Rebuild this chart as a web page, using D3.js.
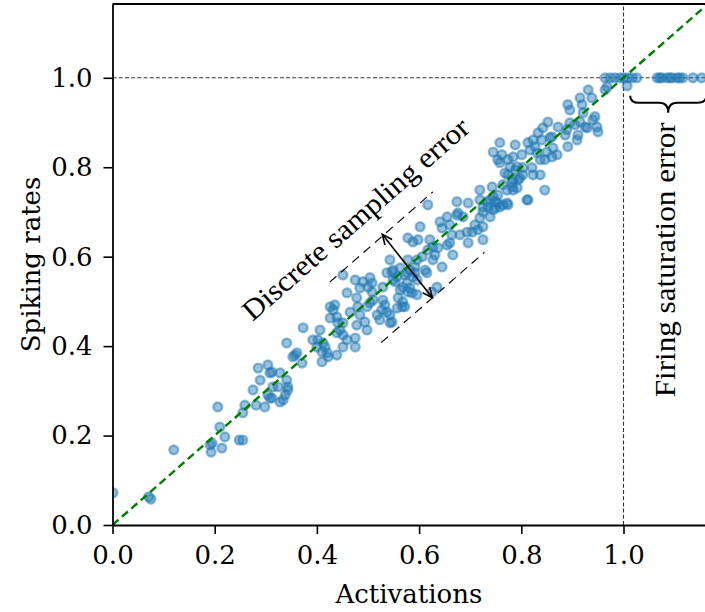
<!DOCTYPE html>
<html>
<head>
<meta charset="utf-8">
<script src="https://cdn.jsdelivr.net/npm/d3@7/dist/d3.min.js"></script>
<style>
  html, body { margin: 0; padding: 0; background: #fff; }
  svg { display: block; }
  .tick text { font-family: "DejaVu Serif", serif; font-size: 26px; fill: #000; }
  .axis-label { font-family: "DejaVu Serif", serif; font-size: 26px; fill: #000; }
  .note { font-family: "Liberation Serif", "Times New Roman", serif; font-size: 29px; fill: #000; }
</style>
</head>
<body>
<svg id="chart" width="705" height="612"></svg>
<script>
// Activation of each neuron (x) and its measured spiking rate (y)
const activations = [
  0.001, 0.071, 0.075, 0.120, 0.195, 0.191, 0.193, 0.214, 0.220, 0.210,
  0.206, 0.248, 0.255, 0.255, 0.259, 0.281, 0.298, 0.275, 0.289, 0.285,
  0.304, 0.308, 0.328, 0.304, 0.312, 0.324, 0.334, 0.338, 0.343, 0.341,
  0.353, 0.357, 0.312, 0.314, 0.343, 0.341, 0.308, 0.328, 0.361, 0.371,
  0.373, 0.392, 0.400, 0.402, 0.406, 0.412, 0.416, 0.410, 0.420, 0.410,
  0.422, 0.426, 0.432, 0.435, 0.439, 0.441, 0.445, 0.439, 0.426, 0.451,
  0.451, 0.459, 0.475, 0.475, 0.451, 0.439, 0.459, 0.465, 0.478, 0.480,
  0.478, 0.484, 0.498, 0.494, 0.498, 0.475, 0.484, 0.490, 0.500, 0.504,
  0.508, 0.508, 0.510, 0.504, 0.518, 0.523, 0.527, 0.533, 0.537, 0.543,
  0.547, 0.451, 0.537, 0.547, 0.549, 0.557, 0.563, 0.559, 0.568, 0.572,
  0.557, 0.576, 0.582, 0.586, 0.596, 0.588, 0.576, 0.529, 0.529, 0.543,
  0.543, 0.549, 0.563, 0.572, 0.553, 0.568, 0.578, 0.582, 0.592, 0.596,
  0.578, 0.567, 0.596, 0.592, 0.606, 0.612, 0.615, 0.602, 0.578, 0.588,
  0.598, 0.621, 0.617, 0.627, 0.631, 0.627, 0.637, 0.645, 0.635, 0.625,
  0.641, 0.645, 0.655, 0.660, 0.664, 0.655, 0.666, 0.660, 0.680, 0.674,
  0.674, 0.676, 0.696, 0.686, 0.694, 0.696, 0.704, 0.709, 0.715, 0.725,
  0.617, 0.719, 0.725, 0.735, 0.739, 0.745, 0.749, 0.754, 0.772, 0.719,
  0.764, 0.772, 0.774, 0.784, 0.782, 0.792, 0.788, 0.797, 0.758, 0.774,
  0.792, 0.811, 0.719, 0.725, 0.733, 0.743, 0.745, 0.754, 0.749, 0.764,
  0.774, 0.758, 0.739, 0.725, 0.758, 0.745, 0.754, 0.762, 0.784, 0.788,
  0.778, 0.768, 0.782, 0.794, 0.784, 0.801, 0.803, 0.803, 0.813, 0.817,
  0.823, 0.827, 0.831, 0.833, 0.837, 0.840, 0.821, 0.823, 0.837, 0.846,
  0.850, 0.860, 0.856, 0.870, 0.862, 0.860, 0.852, 0.872, 0.842, 0.813,
  0.846, 0.886, 0.889, 0.891, 0.895, 0.905, 0.909, 0.911, 0.915, 0.925,
  0.929, 0.891, 0.895, 0.915, 0.919, 0.921, 0.931, 0.940, 0.944, 0.948,
  0.950, 0.938, 0.968, 0.964, 1.007,
  0.964, 0.974, 0.983, 0.993, 1.001, 1.009, 1.017, 1.026,
  1.066, 1.071, 1.075, 1.085, 1.091, 1.095, 1.105, 1.110, 1.116, 1.136, 1.153
];
const spikingRates = [
  0.072, 0.063, 0.058, 0.168, 0.183, 0.179, 0.163, 0.172, 0.197, 0.219,
  0.264, 0.190, 0.190, 0.251, 0.268, 0.268, 0.264, 0.302, 0.324, 0.351,
  0.358, 0.340, 0.340, 0.291, 0.284, 0.309, 0.280, 0.291, 0.302, 0.407,
  0.376, 0.380, 0.342, 0.309, 0.309, 0.324, 0.284, 0.275, 0.385, 0.362,
  0.441, 0.414, 0.398, 0.414, 0.436, 0.407, 0.398, 0.387, 0.385, 0.365,
  0.376, 0.488, 0.481, 0.492, 0.465, 0.452, 0.436, 0.430, 0.463, 0.452,
  0.425, 0.414, 0.418, 0.398, 0.398, 0.380, 0.519, 0.476, 0.508, 0.488,
  0.447, 0.470, 0.436, 0.454, 0.488, 0.548, 0.530, 0.544, 0.532, 0.553,
  0.541, 0.521, 0.503, 0.497, 0.470, 0.459, 0.481, 0.492, 0.476, 0.470,
  0.454, 0.559, 0.564, 0.566, 0.548, 0.555, 0.526, 0.508, 0.499, 0.488,
  0.485, 0.541, 0.530, 0.519, 0.515, 0.555, 0.564, 0.532, 0.503, 0.452,
  0.593, 0.570, 0.575, 0.559, 0.544, 0.532, 0.593, 0.570, 0.564, 0.548,
  0.521, 0.488, 0.593, 0.577, 0.600, 0.570, 0.564, 0.667, 0.642, 0.633,
  0.638, 0.638, 0.615, 0.622, 0.604, 0.593, 0.620, 0.577, 0.532, 0.521,
  0.678, 0.664, 0.689, 0.671, 0.649, 0.626, 0.604, 0.631, 0.649, 0.693,
  0.723, 0.698, 0.720, 0.689, 0.655, 0.631, 0.655, 0.671, 0.660, 0.638,
  0.716, 0.687, 0.700, 0.711, 0.727, 0.705, 0.723, 0.720, 0.720, 0.727,
  0.761, 0.749, 0.783, 0.772, 0.756, 0.754, 0.794, 0.776, 0.810, 0.817,
  0.801, 0.727, 0.749, 0.711, 0.723, 0.756, 0.734, 0.738, 0.709, 0.716,
  0.716, 0.711, 0.689, 0.667, 0.855, 0.834, 0.817, 0.828, 0.823, 0.850,
  0.801, 0.787, 0.767, 0.772, 0.749, 0.828, 0.799, 0.783, 0.855, 0.839,
  0.861, 0.846, 0.832, 0.877, 0.817, 0.861, 0.799, 0.783, 0.783, 0.817,
  0.834, 0.823, 0.866, 0.828, 0.843, 0.868, 0.901, 0.890, 0.888, 0.727,
  0.749, 0.872, 0.884, 0.846, 0.899, 0.895, 0.861, 0.872, 0.901, 0.890,
  0.888, 0.940, 0.928, 0.955, 0.940, 0.922, 0.973, 0.906, 0.913, 0.890,
  0.879, 0.955, 0.980, 0.973, 0.982,
  1.000, 1.000, 1.000, 1.000, 1.000, 1.000, 1.000, 1.000,
  1.000, 1.000, 1.000, 1.000, 1.000, 1.000, 1.000, 1.000, 1.000, 1.000, 1.000
];
const points = activations.map((a, i) => ({ a, r: spikingRates[i] }));

// Axis ranges and ticks
const xDomain = [0, 1.16];
const yDomain = [0, 1.165];
const xTicks = [0, 0.2, 0.4, 0.6, 0.8, 1.0];
const yTicks = [0, 0.2, 0.4, 0.6, 0.8, 1.0];
const xTitle = "Activations";
const yTitle = "Spiking rates";

// Annotation geometry, in data units
const saturationLevel = 1.0;         // max firing rate / activation threshold
const bandOffset = 0.118;            // half width of the sampling-error band
const bandUpper = [0.425, 0.627];    // x extent of upper band line
const bandLower = [0.526, 0.728];    // x extent of lower band line
const arrowFrom = [0.528, 0.650];
const arrowTo = [0.626, 0.508];
const braceSpan = [1.013, 1.162];
const braceTop = 0.96;
const braceMid = 0.944;
const braceTip = 0.922;
const samplingLabel = { text: "Discrete sampling error", x: 0.488, y: 0.668 };
const saturationLabel = { text: "Firing saturation error", x: 1.101, y: 0.593 };

const svg = d3.select("#chart");
const margin = { left: 112.5, top: 4, bottom: 87 };
const plotW = (xDomain[1] - xDomain[0]) * 511;

const x = d3.scaleLinear().domain(xDomain).range([margin.left, margin.left + plotW]);
const y = d3.scaleLinear().domain(yDomain).range([612 - margin.bottom, margin.top]);

svg.append("clipPath").attr("id", "plot-clip")
  .append("rect")
  .attr("x", x(xDomain[0])).attr("y", y(yDomain[1]))
  .attr("width", x(xDomain[1]) - x(xDomain[0]))
  .attr("height", y(yDomain[0]) - y(yDomain[1]));

const plot = svg.append("g").attr("clip-path", "url(#plot-clip)");

// Reference lines at the saturation level
plot.append("line")
  .attr("x1", x(xDomain[0])).attr("x2", x(xDomain[1]))
  .attr("y1", y(saturationLevel)).attr("y2", y(saturationLevel))
  .attr("stroke", "#333").attr("stroke-width", 1.1)
  .attr("stroke-dasharray", "4,2.2");
plot.append("line")
  .attr("x1", x(saturationLevel)).attr("x2", x(saturationLevel))
  .attr("y1", y(yDomain[0])).attr("y2", y(yDomain[1]))
  .attr("stroke", "#333").attr("stroke-width", 1.1)
  .attr("stroke-dasharray", "4,2.2");

// Scatter of neurons: translucent face with an edge ring of the same colour
plot.append("g").selectAll("circle")
  .data(points)
  .join("circle")
  .attr("cx", d => x(d.a))
  .attr("cy", d => y(d.r))
  .attr("r", 4.4)
  .attr("fill", "#1f77b4").attr("fill-opacity", 0.45)
  .attr("stroke", "#1f77b4").attr("stroke-opacity", 0.5)
  .attr("stroke-width", 2.4);

// Identity line
plot.append("line")
  .attr("x1", x(0)).attr("y1", y(0))
  .attr("x2", x(xDomain[1])).attr("y2", y(xDomain[1]))
  .attr("stroke", "green").attr("stroke-width", 2.4)
  .attr("stroke-dasharray", "8,4.5");

// Sampling-error band edges
plot.append("line")
  .attr("x1", x(bandUpper[0])).attr("y1", y(bandUpper[0] + bandOffset))
  .attr("x2", x(bandUpper[1])).attr("y2", y(bandUpper[1] + bandOffset))
  .attr("stroke", "#000").attr("stroke-width", 1.1).attr("stroke-dasharray", "9,6");
plot.append("line")
  .attr("x1", x(bandLower[0])).attr("y1", y(bandLower[0] - bandOffset))
  .attr("x2", x(bandLower[1])).attr("y2", y(bandLower[1] - bandOffset))
  .attr("stroke", "#000").attr("stroke-width", 1.1).attr("stroke-dasharray", "9,6");

// Double-headed arrow across the band
const ax1 = x(arrowFrom[0]), ay1 = y(arrowFrom[1]);
const ax2 = x(arrowTo[0]), ay2 = y(arrowTo[1]);
plot.append("line")
  .attr("x1", ax1).attr("y1", ay1).attr("x2", ax2).attr("y2", ay2)
  .attr("stroke", "#000").attr("stroke-width", 1.6);
function head(px, py, qx, qy) {
  const ang = Math.atan2(qy - py, qx - px);
  const len = 11, spread = 0.42;
  const p1 = [px + len * Math.cos(ang + spread), py + len * Math.sin(ang + spread)];
  const p2 = [px + len * Math.cos(ang - spread), py + len * Math.sin(ang - spread)];
  return `M${p1[0]},${p1[1]} L${px},${py} L${p2[0]},${p2[1]}`;
}
plot.append("path").attr("d", head(ax1, ay1, ax2, ay2))
  .attr("fill", "none").attr("stroke", "#000").attr("stroke-width", 1.6);
plot.append("path").attr("d", head(ax2, ay2, ax1, ay1))
  .attr("fill", "none").attr("stroke", "#000").attr("stroke-width", 1.6);

// Curly brace under the saturated points
{
  const x0 = x(braceSpan[0]), x1 = x(braceSpan[1]);
  const xm = (x0 + x1) / 2;
  const yT = y(braceTop), yM = y(braceMid), yB = y(braceTip);
  const r = 9;
  const d = `M${x0},${yT} Q${x0},${yM} ${x0 + r},${yM} L${xm - r},${yM} ` +
            `Q${xm},${yM} ${xm},${yB} Q${xm},${yM} ${xm + r},${yM} ` +
            `L${x1 - r},${yM} Q${x1},${yM} ${x1},${yT}`;
  plot.append("path").attr("d", d)
    .attr("fill", "none").attr("stroke", "#000").attr("stroke-width", 2);
}

// Annotation labels
const slope = Math.atan2(y(1) - y(0), x(1) - x(0)) * 180 / Math.PI;
svg.append("text").attr("class", "note")
  .attr("text-anchor", "middle")
  .attr("transform", `translate(${x(samplingLabel.x)},${y(samplingLabel.y)}) rotate(${slope})`)
  .attr("textLength", 291).attr("lengthAdjust", "spacingAndGlyphs")
  .text(samplingLabel.text);
svg.append("text").attr("class", "note")
  .attr("text-anchor", "middle")
  .attr("transform", `translate(${x(saturationLabel.x)},${y(saturationLabel.y)}) rotate(-90)`)
  .attr("textLength", 275).attr("lengthAdjust", "spacingAndGlyphs")
  .text(saturationLabel.text);

// Axes
const xAxis = svg.append("g")
  .attr("transform", `translate(0,${y(0)})`)
  .call(d3.axisBottom(x).tickValues(xTicks).tickFormat(d3.format(".1f")).tickSize(9).tickPadding(12).tickSizeOuter(0));
const yAxis = svg.append("g")
  .attr("transform", `translate(${x(0)},0)`)
  .call(d3.axisLeft(y).tickValues(yTicks).tickFormat(d3.format(".1f")).tickSize(9).tickPadding(11).tickSizeOuter(0));
[xAxis, yAxis].forEach(g => {
  g.selectAll(".domain").attr("stroke", "#000").attr("stroke-width", 1.8);
  g.selectAll(".tick line").attr("stroke", "#000").attr("stroke-width", 1.6);
});
// Top spine
svg.append("line")
  .attr("x1", x(xDomain[0])).attr("x2", x(xDomain[1]))
  .attr("y1", y(yDomain[1])).attr("y2", y(yDomain[1]))
  .attr("stroke", "#000").attr("stroke-width", 1.8);

// Axis titles
svg.append("text").attr("class", "axis-label")
  .attr("x", (x(xDomain[0]) + x(xDomain[1])) / 2).attr("y", 603)
  .attr("text-anchor", "middle").text(xTitle);
svg.append("text").attr("class", "axis-label")
  .attr("transform", `translate(40,${(y(yDomain[0]) + y(yDomain[1])) / 2}) rotate(-90)`)
  .attr("text-anchor", "middle").text(yTitle);
</script>
</body>
</html>
